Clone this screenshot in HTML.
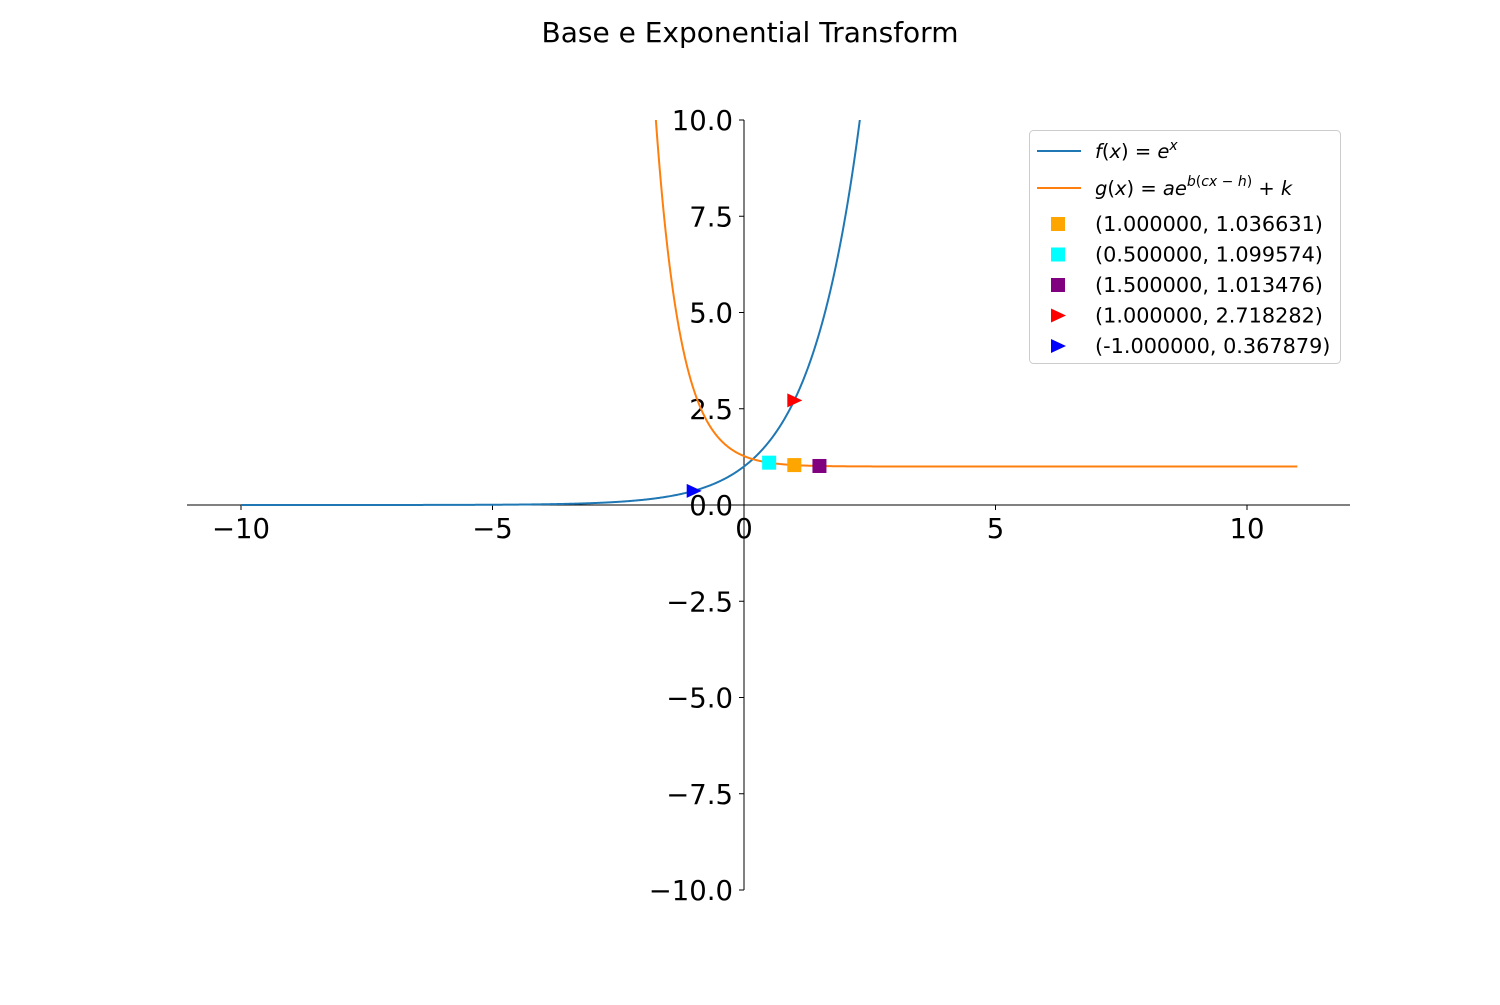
<!DOCTYPE html>
<html><head><meta charset="utf-8"><style>
body{margin:0;background:#fff;}
svg text{font-family:"DejaVu Sans","Liberation Sans",sans-serif;}
</style></head><body>
<svg id="chart" width="1500" height="1000">
<defs><clipPath id="plotclip"><rect x="0" y="120" width="1500" height="800"/></clipPath></defs>
<text x="750" y="42" font-size="28" text-anchor="middle">Base e Exponential Transform</text>
<g id="axes"></g>
<g id="curves" clip-path="url(#plotclip)"></g>
<g id="points"></g>
<g id="legend"></g>
</svg>
<script>
const xTicks=[-10,-5,0,5,10];
const yTicks=[-10,-7.5,-5,-2.5,0,2.5,5,7.5,10];
const yTickLabels=["\u221210.0","\u22127.5","\u22125.0","\u22122.5","0.0","2.5","5.0","7.5","10.0"];
const xTickLabels=["\u221210","\u22125","0","5","10"];
const gParams=[0.2707,-2,1]; // A, rate, k
const fRange=[-10,11];
const gRange=[-1.8,11];
const squareX=[1.0,0.5,1.5];
const squareY=[1.036631,1.099574,1.013476];
const squareColors=["orange","cyan","purple"];
const triX=[1.0,-1.0];
const triY=[2.718282,0.367879];
const triColors=["red","blue"];
const legendLabels=["(1.000000, 1.036631)","(0.500000, 1.099574)","(1.500000, 1.013476)","(1.000000, 2.718282)","(-1.000000, 0.367879)"];

const NS="http://www.w3.org/2000/svg";
const X=v=>744+v*50.3;
const Y=v=>505-v*38.5;
function mk(tag,attrs,parent){const e=document.createElementNS(NS,tag);for(const k in attrs)e.setAttribute(k,attrs[k]);parent.appendChild(e);return e;}
const axes=document.getElementById('axes');
let xl=mk('line',{x1:187,x2:1350,y1:505,y2:505,stroke:'#000','stroke-width':1},axes);


let yl=mk('line',{x1:744,x2:744,y1:120,y2:890,stroke:'#000','stroke-width':1},axes);


xTicks.forEach((t,i)=>{
 mk('line',{x1:X(t),x2:X(t),y1:505,y2:510,stroke:'#000'},axes);
 const tx=mk('text',{x:X(t),y:538,'font-size':27.5,'text-anchor':'middle'},axes);
 tx.textContent=xTickLabels[i];
 
 
});
yTicks.forEach((t,i)=>{
 mk('line',{x1:739,x2:744,y1:Y(t),y2:Y(t),stroke:'#000'},axes);
 const tx=mk('text',{x:733,y:Y(t)+10,'font-size':27.5,'text-anchor':'end'},axes);
 tx.textContent=yTickLabels[i];
 
 
});
const curves=document.getElementById('curves');
function path(fn,r,color,name){
 let d='';const n=1500;let started=false;
 for(let i=0;i<=n;i++){
  const x=r[0]+(r[1]-r[0])*i/n;const y=fn(x);
  if(y>10.5){ if(started){d+='L'+X(x).toFixed(2)+','+Y(y).toFixed(2);break;} else continue; }
  d+=(started?'L':'M')+X(x).toFixed(2)+','+Y(y).toFixed(2);started=true;
 }
 const p=mk('path',{d:d,fill:'none',stroke:color,'stroke-width':2},curves);
 
 
}
path(x=>Math.exp(x),fRange,'#1f77b4','f-curve');
path(x=>gParams[2]+gParams[0]*Math.exp(gParams[1]*x),gRange,'#ff7f0e','g-curve');
const pts=document.getElementById('points');
squareX.forEach((x,i)=>{
 const r=mk('rect',{x:X(x)-7,y:Y(squareY[i])-7,width:14,height:14,fill:squareColors[i]},pts);
 
 
});
triX.forEach((x,i)=>{
 const cx=X(x),cy=Y(triY[i]);
 const p=mk('polygon',{points:`${cx-7},${cy-7} ${cx+8},${cy} ${cx-7},${cy+7}`,fill:triColors[i]},pts);
 
 
});
const lg=document.getElementById('legend');
mk('rect',{x:1029.5,y:130.5,width:311,height:233,rx:4,fill:'#fff',stroke:'#ccc'},lg);
mk('line',{x1:1037,x2:1081,y1:151,y2:151,stroke:'#1f77b4','stroke-width':2},lg);
mk('line',{x1:1037,x2:1081,y1:188,y2:188,stroke:'#ff7f0e','stroke-width':2},lg);
const t1=mk('text',{x:1095,y:158,'font-size':19.5,'font-style':'italic'},lg);
t1.innerHTML='f<tspan font-style="normal">(</tspan>x<tspan font-style="normal">) = </tspan>e<tspan dy="-8" font-size="14">x</tspan>';


const t2=mk('text',{x:1095,y:195,'font-size':19.5,'font-style':'italic'},lg);
t2.innerHTML='g<tspan font-style="normal">(</tspan>x<tspan font-style="normal">) = </tspan>ae<tspan dy="-9" font-size="14">b<tspan font-style="normal">(</tspan>cx<tspan font-style="normal"> − </tspan>h<tspan font-style="normal">)</tspan></tspan><tspan dy="9" font-style="normal"> + </tspan>k';


const mColors=squareColors.concat(triColors);
legendLabels.forEach((lab,i)=>{
 const cy=224+i*30.5, cx=1058;
 if(i<3){const r=mk('rect',{x:cx-7,y:cy-7,width:14,height:14,fill:mColors[i]},lg);}
 else{const p=mk('polygon',{points:`${cx-7},${cy-7} ${cx+8},${cy} ${cx-7},${cy+7}`,fill:mColors[i]},lg);}
 const t=mk('text',{x:1095,y:cy+7,'font-size':20.8},lg);
 t.textContent=lab;
 
 
});
</script>
</body></html>
